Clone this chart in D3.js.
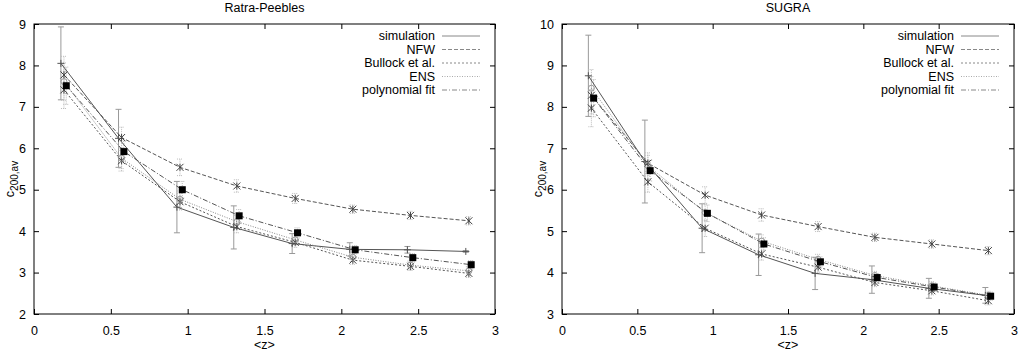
<!DOCTYPE html>
<html>
<head>
<meta charset="utf-8">
<script src="https://cdn.jsdelivr.net/npm/d3@7"></script>
<style>
  body { margin: 0; background: #fff; }
  svg { display: block; font-family: "Liberation Sans", Arial, sans-serif; }
  .frame line, .frame rect { stroke: #000; }
  text { fill: #000; font-size: 12.5px; }
</style>
</head>
<body>
<svg width="1018" height="352"></svg>
<script>
// mean redshift of each bin
const zLeft = [0.195, 0.57, 0.95, 1.32, 1.70, 2.075, 2.45, 2.83];
const zRight = [0.195, 0.57, 0.95, 1.325, 1.70, 2.077, 2.455, 2.83];

// Ratra-Peebles
const rpSimulation = [8.05, 6.24, 4.58, 4.09, 3.70, 3.56, 3.55, 3.51];
const rpSimErr = [0.88, 0.70, 0.62, 0.52, 0.24, 0.16, 0.08, 0.02];
const rpNFW = [7.77, 6.26, 5.54, 5.09, 4.79, 4.53, 4.38, 4.25];
const rpBullock = [7.41, 5.70, 4.71, 4.11, 3.73, 3.30, 3.15, 2.98];
const rpENS = [7.61, 5.76, 4.77, 4.23, 3.79, 3.37, 3.18, 3.04];
const rpPoly = [7.51, 5.92, 5.00, 4.37, 3.96, 3.55, 3.36, 3.19];
const rpModelErr = [0.45, 0.25, 0.20, 0.15, 0.12, 0.10, 0.10, 0.10];

// SUGRA
const suSimulation = [8.75, 6.68, 5.07, 4.43, 3.98, 3.83, 3.62, 3.45];
const suSimErr = [0.98, 1.00, 0.59, 0.50, 0.39, 0.33, 0.24, 0.19];
const suNFW = [8.28, 6.64, 5.87, 5.39, 5.11, 4.85, 4.69, 4.53];
const suBullock = [7.97, 6.19, 5.07, 4.45, 4.13, 3.76, 3.56, 3.32];
const suENS = [8.45, 6.58, 5.45, 4.76, 4.32, 3.93, 3.68, 3.45];
const suPoly = [8.21, 6.46, 5.43, 4.69, 4.26, 3.88, 3.65, 3.43];
const suModelErr = [0.45, 0.25, 0.20, 0.15, 0.12, 0.10, 0.10, 0.10];

const xTicks = [0, 0.5, 1, 1.5, 2, 2.5, 3];
const yTicksLeft = [2, 3, 4, 5, 6, 7, 8, 9];
const yTicksRight = [3, 4, 5, 6, 7, 8, 9, 10];

const legendNames = ['simulation', 'NFW', 'Bullock et al.', 'ENS', 'polynomial fit'];

// line style per series, small x shift (in <z>) so the points don't sit on each other
const styles = [
  {dash: null, color: '#555', marker: 'plus', dx: -0.02},
  {dash: '4,2', color: '#555', marker: 'star', dx: 0},
  {dash: '2,2', color: '#555', marker: 'star', dx: 0},
  {dash: '1,1.5', color: '#888', marker: 'circle', dx: 0},
  {dash: '5,2,1,2', color: '#555', marker: 'square', dx: 0.015},
];

const panels = [
  {title: 'Ratra-Peebles', left: 34, right: 495, z: zLeft, yDomain: [2, 9], yTicks: yTicksLeft,
   series: [rpSimulation, rpNFW, rpBullock, rpENS, rpPoly], simErr: rpSimErr, modelErr: rpModelErr},
  {title: 'SUGRA', left: 562, right: 1014, z: zRight, yDomain: [3, 10], yTicks: yTicksRight,
   series: [suSimulation, suNFW, suBullock, suENS, suPoly], simErr: suSimErr, modelErr: suModelErr},
];

const plotTop = 24, plotBottom = 314, tick = 5;

const svg = d3.select('svg');

function marker(sel, type, x, y) {
  const s = 3.5;
  if (type === 'square') {
    sel.append('rect').attr('x', x - s).attr('y', y - s).attr('width', 2 * s).attr('height', 2 * s)
      .attr('fill', '#000');
  } else if (type === 'plus') {
    sel.append('path').attr('d', `M${x - s},${y}H${x + s}M${x},${y - s}V${y + s}`)
      .attr('stroke', '#555').attr('fill', 'none');
  } else if (type === 'star') {
    sel.append('path')
      .attr('d', `M${x - s},${y - s}L${x + s},${y + s}M${x - s},${y + s}L${x + s},${y - s}M${x},${y - s}V${y + s}`)
      .attr('stroke', '#444').attr('fill', 'none');
  } else {
    sel.append('circle').attr('cx', x).attr('cy', y).attr('r', 3)
      .attr('stroke', '#999').attr('fill', 'none');
  }
}

function errorBar(sel, x, y0, y1, color, dash) {
  const c = 3;
  sel.append('path')
    .attr('d', `M${x},${y0}V${y1}M${x - c},${y0}H${x + c}M${x - c},${y1}H${x + c}`)
    .attr('stroke', color).attr('fill', 'none')
    .attr('stroke-dasharray', dash);
}

panels.forEach(p => {
  const x = d3.scaleLinear().domain([0, 3]).range([p.left, p.right]);
  const y = d3.scaleLinear().domain(p.yDomain).range([plotBottom, plotTop]);
  const g = svg.append('g');

  // frame with mirrored ticks
  const frame = g.append('g').attr('class', 'frame');
  frame.append('rect').attr('x', p.left).attr('y', plotTop)
    .attr('width', p.right - p.left).attr('height', plotBottom - plotTop).attr('fill', 'none');

  const xAxis = d3.axisBottom(x).tickValues(xTicks).tickSize(-tick).tickPadding(12)
    .tickFormat(d3.format('~g'));
  g.append('g').attr('transform', `translate(0,${plotBottom})`).call(xAxis);
  g.append('g').attr('transform', `translate(0,${plotTop})`)
    .call(d3.axisTop(x).tickValues(xTicks).tickSize(-tick).tickFormat(''));

  const yAxis = d3.axisLeft(y).tickValues(p.yTicks).tickSize(-tick).tickPadding(8)
    .tickFormat(d3.format('~g'));
  g.append('g').attr('transform', `translate(${p.left},0)`).call(yAxis);
  g.append('g').attr('transform', `translate(${p.right},0)`)
    .call(d3.axisRight(y).tickValues(p.yTicks).tickSize(-tick).tickFormat(''));

  g.selectAll('.domain').remove();
  g.selectAll('.tick line').attr('stroke', '#000');
  g.selectAll('.tick text').attr('fill', '#000').style('font-size', '12.5px')
    .style('font-family', '"Liberation Sans", Arial, sans-serif');

  // error bars
  const bars = g.append('g');
  p.series.forEach((vals, si) => {
    const st = styles[si];
    vals.forEach((v, i) => {
      const e = si === 0 ? p.simErr[i] : p.modelErr[i];
      const xx = x(p.z[i] + st.dx);
      if (si === 0) errorBar(bars, xx, y(v - e), y(v + e), '#999', null);
      else errorBar(bars, xx, y(v - e), y(v + e), '#bbb', '1,1');
    });
  });

  // lines and points
  const line = d3.line().x(d => x(d[0])).y(d => y(d[1]));
  p.series.forEach((vals, si) => {
    const st = styles[si];
    const pts = vals.map((v, i) => [p.z[i] + st.dx, v]);
    g.append('path').datum(pts).attr('d', line)
      .attr('fill', 'none').attr('stroke', st.color).attr('stroke-width', 1)
      .attr('stroke-dasharray', st.dash);
    const mk = g.append('g');
    pts.forEach(d => marker(mk, st.marker, x(d[0]), y(d[1])));
  });

  // legend
  const lg = g.append('g');
  legendNames.forEach((name, i) => {
    const ly = 36 + i * 13.5;
    lg.append('text').attr('x', p.right - 60).attr('y', ly).attr('dy', '0.35em')
      .attr('text-anchor', 'end').text(name);
    lg.append('line').attr('x1', p.right - 53).attr('x2', p.right - 15)
      .attr('y1', ly).attr('y2', ly)
      .attr('stroke', styles[i].color === '#555' ? '#888' : '#aaa')
      .attr('stroke-dasharray', styles[i].dash);
  });

  // titles and axis labels
  const mid = (p.left + p.right) / 2;
  g.append('text').attr('x', mid).attr('y', 12).attr('text-anchor', 'middle').text(p.title);
  g.append('text').attr('x', mid).attr('y', 349).attr('text-anchor', 'middle').text('<z>');
  const yl = g.append('text')
    .attr('transform', `translate(${p.left - 20},${(plotTop + plotBottom) / 2 + 10}) rotate(-90)`)
    .attr('text-anchor', 'middle');
  yl.append('tspan').text('c');
  yl.append('tspan').attr('dy', 4).style('font-size', '10px').text('200,av');
});
</script>
</body>
</html>
